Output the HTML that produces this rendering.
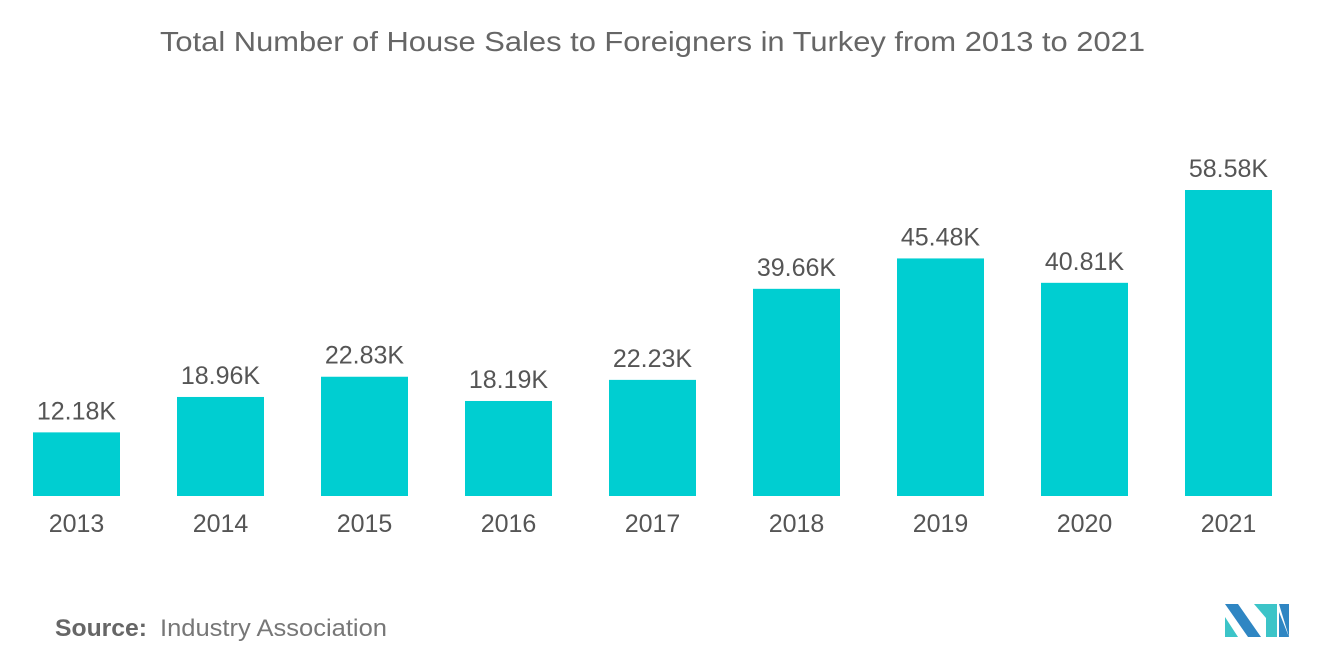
<!DOCTYPE html>
<html><head><meta charset="utf-8"><style>
body{margin:0;background:#fff;width:1320px;height:665px;overflow:hidden;font-family:"Liberation Sans",sans-serif}
</style></head><body>
<svg width="1320" height="665" xmlns="http://www.w3.org/2000/svg">
<text x="160" y="51" font-size="28" fill="#666" textLength="985" lengthAdjust="spacingAndGlyphs">Total Number of House Sales to Foreigners in Turkey from 2013 to 2021</text>
<g id="bars"></g>
<text x="55" y="636" font-size="24" fill="#666" font-weight="bold" textLength="92" lengthAdjust="spacingAndGlyphs">Source:</text>
<text x="160" y="636" font-size="24" fill="#777" textLength="227" lengthAdjust="spacingAndGlyphs">Industry Association</text>
<g>
<polygon points="1225,604 1238,604 1261,637 1248,637" fill="#2f86c3"/>
<polygon points="1225,617 1238,637 1225,637" fill="#3cc4c8"/>
<polygon points="1254,604 1266,604 1266,618" fill="#3cc4c8"/>
<polygon points="1266,604 1277,604 1277,637 1266,637" fill="#3cc4c8"/>
<polygon points="1279,604 1289,604 1289,637" fill="#2f86c3"/>
<polygon points="1279,612 1289,637 1279,637" fill="#2f86c3"/>
</g>
</svg>
<script>
const categories=["2013","2014","2015","2016","2017","2018","2019","2020","2021"];
const values=[12.18,18.96,22.83,18.19,22.23,39.66,45.48,40.81,58.58];
const valueLabels=["12.18K","18.96K","22.83K","18.19K","22.23K","39.66K","45.48K","40.81K","58.58K"];
const NS="http://www.w3.org/2000/svg";
const g=document.getElementById('bars');
const baseY=496, scale=306/58.58, x0=33, step=144, bw=87;
function xPos(i){return x0+i*step;}
function yPos(v){return baseY-v*scale;}
categories.forEach((c,i)=>{
  const r=document.createElementNS(NS,'rect');
  
  
  r.setAttribute('x',xPos(i));r.setAttribute('y',yPos(values[i]));
  r.setAttribute('width',bw);r.setAttribute('height',baseY-yPos(values[i]));
  r.setAttribute('fill','#00ced1');
  g.appendChild(r);
  const t=document.createElementNS(NS,'text');
  
  
  t.setAttribute('x',xPos(i)+bw/2);t.setAttribute('y',yPos(values[i])-13);
  t.setAttribute('text-anchor','middle');t.setAttribute('font-size','25');t.setAttribute('fill','#555');
  t.textContent=valueLabels[i];g.appendChild(t);
  const l=document.createElementNS(NS,'text');
  
  
  l.setAttribute('x',xPos(i)+bw/2);l.setAttribute('y',532);
  l.setAttribute('text-anchor','middle');l.setAttribute('font-size','25');l.setAttribute('fill','#555');
  l.textContent=c;g.appendChild(l);
});
</script>
</body></html>
